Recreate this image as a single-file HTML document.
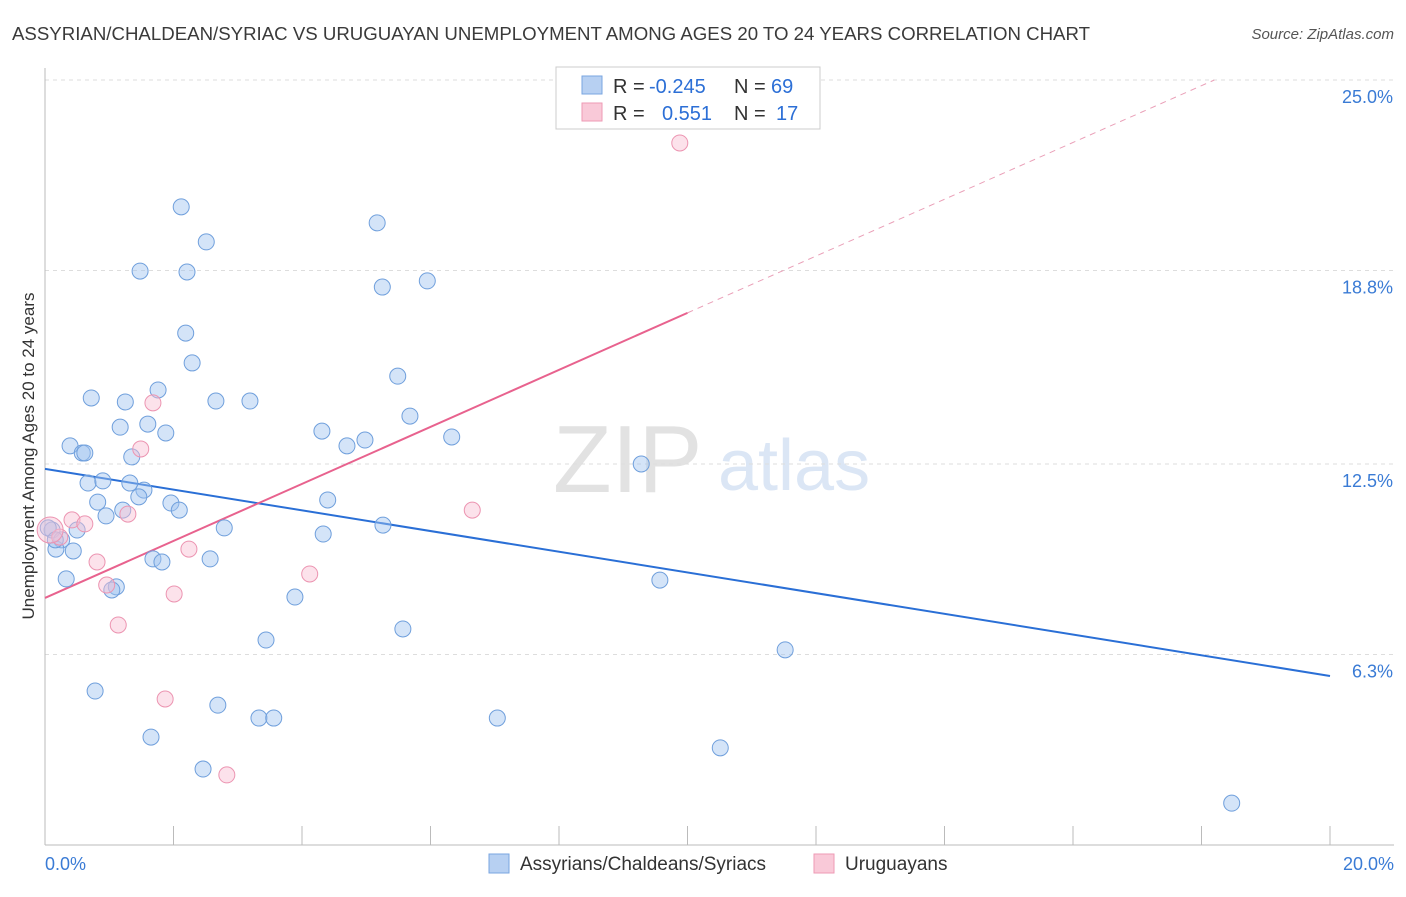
<!DOCTYPE html>
<html><head><meta charset="utf-8"><style>
body{margin:0;background:#fff;font-family:"Liberation Sans",sans-serif;}
svg text{font-family:"Liberation Sans",sans-serif;}
</style></head><body>
<svg id="chart" width="1406" height="892" viewBox="0 0 1406 892" xmlns="http://www.w3.org/2000/svg">
<text x="12" y="40" font-size="18.6" fill="#3a3a3a" textLength="1078" lengthAdjust="spacingAndGlyphs">ASSYRIAN/CHALDEAN/SYRIAC VS URUGUAYAN UNEMPLOYMENT AMONG AGES 20 TO 24 YEARS CORRELATION CHART</text>
<text x="1394" y="39" font-size="15" fill="#555" text-anchor="end" font-style="italic">Source: ZipAtlas.com</text>
<text x="553" y="492" font-size="96" fill="#e2e2e2" font-family="Liberation Serif">ZIP</text>
<text x="718" y="490" font-size="72" fill="#dbe6f5">atlas</text>
<g id="grid"></g>
<g id="axes"></g>
<g id="lines"></g>
<g id="points"></g>
<text transform="translate(34,456) rotate(-90)" font-size="17" fill="#333" text-anchor="middle">Unemployment Among Ages 20 to 24 years</text>
<text x="45" y="870" font-size="18" fill="#3a7bd5">0.0%</text>
<text x="1394" y="870" font-size="18" fill="#3a7bd5" text-anchor="end">20.0%</text>
<g>
<rect x="556" y="67" width="264" height="62" fill="#fff" stroke="#ccc"/>
<rect x="582" y="76" width="20" height="18" fill="#b7d0f2" stroke="#7aa6e0"/>
<rect x="582" y="103" width="20" height="18" fill="#f9c9d8" stroke="#ee9ab4"/>
<text x="613" y="93" font-size="20" fill="#333">R =</text>
<text x="649" y="93" font-size="20" fill="#2c6fd6">-0.245</text>
<text x="734" y="93" font-size="20" fill="#333">N =</text>
<text x="771" y="93" font-size="20" fill="#2c6fd6">69</text>
<text x="613" y="120" font-size="20" fill="#333">R =</text>
<text x="662" y="120" font-size="20" fill="#2c6fd6">0.551</text>
<text x="734" y="120" font-size="20" fill="#333">N =</text>
<text x="776" y="120" font-size="20" fill="#2c6fd6">17</text>
</g>
<g>
<rect x="489" y="854" width="20" height="19" fill="#b7d0f2" stroke="#7aa6e0"/>
<text x="520" y="870" font-size="19" fill="#333">Assyrians/Chaldeans/Syriacs</text>
<rect x="814" y="854" width="20" height="19" fill="#f9c9d8" stroke="#ee9ab4"/>
<text x="845" y="870" font-size="19" fill="#333">Uruguayans</text>
</g>
</svg>
<script>
const blueX=[2.12,2.51,1.48,2.21,5.17,5.25,5.95,2.19,2.29,5.49,1.76,0.72,1.25,2.66,3.19,5.68,1.17,1.60,1.88,4.31,4.98,4.70,6.33,0.39,0.58,0.62,1.35,9.28,0.67,0.90,1.32,1.54,1.46,0.82,1.96,4.40,2.09,1.21,0.95,5.26,2.79,0.50,0.11,0.26,4.33,0.17,0.44,1.68,1.82,2.57,0.33,9.57,1.11,1.04,3.89,5.57,3.44,11.52,0.78,2.69,3.33,3.56,7.04,1.65,10.51,2.46,18.47,0.05,0.16];
const blueY=[20.87,19.73,18.78,18.75,20.35,18.26,18.46,16.76,15.79,15.36,14.91,14.65,14.52,14.55,14.55,14.06,13.70,13.80,13.51,13.57,13.28,13.09,13.38,13.09,12.86,12.86,12.73,12.50,11.88,11.95,11.88,11.65,11.43,11.26,11.23,11.33,11.00,11.00,10.81,10.51,10.42,10.35,10.35,10.03,10.22,9.73,9.67,9.41,9.31,9.41,8.76,8.72,8.50,8.40,8.17,7.13,6.77,6.45,5.11,4.65,4.23,4.23,4.23,3.61,3.26,2.57,1.46,10.42,10.03];
const pinkX=[9.88,1.68,1.49,1.29,6.65,0.42,0.62,0.23,2.24,0.81,4.12,0.96,2.01,1.14,1.87,2.83,0.08];
const pinkY=[22.95,14.49,12.99,10.87,11.00,10.68,10.55,10.12,9.73,9.31,8.92,8.56,8.27,7.26,4.85,2.38,10.35];
const blueTrend=[[0,12.34],[20,5.60]];
const pinkTrend=[[0,8.14],[10,17.42]];
const pinkDash=[[10,17.42],[18.2,25.0]];
const yTicks=[25.0,18.8,12.5,6.3];
const yTickLabels=["25.0%","18.8%","12.5%","6.3%"];
const xTicks=[0,2,4,6,8,10,12,14,16,18,20];
const sx=v=>45+v*64.25, sy=v=>848-v*30.72;
const NS="http://www.w3.org/2000/svg";
function mk(tag,attrs,parent){const e=document.createElementNS(NS,tag);for(const k in attrs)e.setAttribute(k,attrs[k]);document.getElementById(parent).appendChild(e);return e;}
yTicks.forEach((t,i)=>{
 const l=mk('line',{x1:45,x2:1394,y1:sy(t),y2:sy(t),stroke:'#ddd','stroke-dasharray':'4,4'},'grid');
 
 
 const tx=mk('text',{x:1393,y:sy(t)+23,'font-size':18,fill:'#3a7bd5','text-anchor':'end'},'grid');
 tx.textContent=yTickLabels[i];
 
 
});
const ax=mk('line',{x1:45,x2:45,y1:68,y2:845,stroke:'#bbb'},'axes');


const bx=mk('line',{x1:45,x2:1394,y1:845,y2:845,stroke:'#bbb'},'axes');


xTicks.forEach(t=>{
 const l=mk('line',{x1:sx(t),x2:sx(t),y1:826,y2:845,stroke:'#bbb'},'axes');
 
 
});
function line(p,col,w,dash,name){
 const l=mk('line',{x1:sx(p[0][0]),y1:sy(p[0][1]),x2:sx(p[1][0]),y2:sy(p[1][1]),stroke:col,'stroke-width':w},'lines');
 if(dash)l.setAttribute('stroke-dasharray',dash);
 
 
}
line(blueTrend,'#2a6fd6',2,null,'blue-trend-line');
line(pinkTrend,'#e8628e',2,null,'pink-trend-line');
line(pinkDash,'#eaa0b8',1,'6,5','pink-trend-extension');
blueX.forEach((x,i)=>{
 const c=mk('circle',{cx:sx(x),cy:sy(blueY[i]),r:8,fill:'rgba(160,195,240,0.45)',stroke:'#6f9fdc','stroke-width':1},'points');
 
 
});
pinkX.forEach((x,i)=>{
 const c=mk('circle',{cx:sx(x),cy:sy(pinkY[i]),r:(i==16?13:8),fill:'rgba(248,190,210,0.45)',stroke:'#ec94b1','stroke-width':1},'points');
 
 
});
</script>
</body></html>
